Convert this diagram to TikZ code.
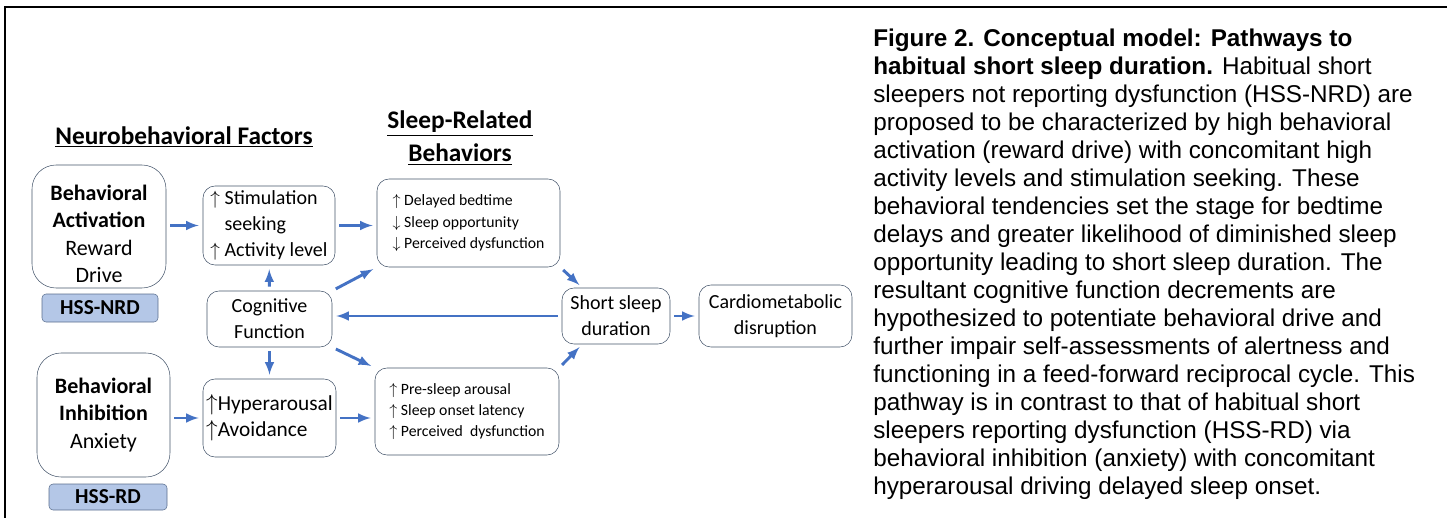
\documentclass[tikz,border=0pt]{standalone}
\usepackage{fontspec}
\setmainfont{Carlito}
\newfontfamily\capfont{Liberation Sans}
\usetikzlibrary{positioning,arrows,calc}
\definecolor{linkblue}{HTML}{4472C4}
\definecolor{boxline}{HTML}{44546A}
\definecolor{tagfill}{HTML}{B4C7E7}
\definecolor{tagline}{HTML}{5A6F8F}
\tikzset{
    factor/.style={draw=boxline, rounded corners=18pt, align=center, inner sep=2pt, font=\fontsize{16.5}{20.5}\selectfont},
    item/.style={draw=boxline, rounded corners=9pt, align=center, inner sep=2pt, font=\fontsize{15}{19.5}\selectfont},
    behav/.style={draw=boxline, rounded corners=9pt, align=left, inner sep=2pt, font=\fontsize{11.8}{16}\selectfont},
    tag/.style={draw=tagline, fill=tagfill, rounded corners=3pt, font=\bfseries\fontsize{16}{18}\selectfont},
    head/.style={align=center, font=\bfseries\fontsize{19}{24.75}\selectfont},
    link/.style={->, draw=linkblue, line width=2.2pt, shorten >=3pt, shorten <=3pt}
}

\begin{document}
\begin{tikzpicture}[x=0.75pt,y=-0.75pt,>=latex]
	\useasboundingbox (0,0) rectangle (1447,518);
	% frame
	\draw[line width=1.4pt] (5,518) -- (5,7) -- (1447,7);

	% headings
	\node[head] (NF) at (184,137) {\underline{Neurobehavioral Factors}};
	\node[head] (SR) at (460,138) {\underline{Sleep-Related}\\\underline{Behaviors}};

	% boxes
	\node[factor,minimum width=134*0.75pt,minimum height=123*0.75pt] (BA) at (99,226.5) {\rule{0pt}{22.5pt}\textbf{Behavioral}\\\textbf{Activation}\\Reward\\Drive};
	\node[tag,minimum width=116*0.75pt,minimum height=28*0.75pt] (NRD) at (100,308) {HSS-NRD};
	\node[factor,minimum width=133*0.75pt,minimum height=124*0.75pt] (BI) at (103.5,415) {\textbf{Behavioral}\\\textbf{Inhibition}\\Anxiety};
	\node[tag,minimum width=118*0.75pt,minimum height=26*0.75pt] (RD) at (108,497) {HSS-RD};
	\node[item,align=left,minimum width=132*0.75pt,minimum height=79*0.75pt] (Stim) at (269,225.5) {$\uparrow$ Stimulation\\\phantom{$\uparrow$ }seeking\\$\uparrow$ Activity level};
	\node[item,minimum width=125*0.75pt,minimum height=56*0.75pt] (Cog) at (269.5,319) {Cognitive\\Function};
	\node[item,align=left,font=\fontsize{16}{19.5}\selectfont,minimum width=133*0.75pt,minimum height=78*0.75pt] (Hyp) at (269.5,418) {$\uparrow$Hyperarousal\\$\uparrow$Avoidance};
	\node[behav,minimum width=183*0.75pt,minimum height=88*0.75pt] (Del) at (468.5,223) {$\uparrow$ Delayed bedtime\\$\downarrow$ Sleep opportunity\\$\downarrow$ Perceived dysfunction};
	\node[behav,minimum width=184*0.75pt,minimum height=87*0.75pt] (Pre) at (467,411.5) {$\uparrow$ Pre-sleep arousal\\$\uparrow$ Sleep onset latency\\$\uparrow$ Perceived\ \ dysfunction};
	\node[item,minimum width=108*0.75pt,minimum height=56*0.75pt] (Short) at (616,316) {Short sleep\\duration};
	\node[item,minimum width=153*0.75pt,minimum height=62*0.75pt] (Card) at (775.5,316) {Cardiometabolic\\disruption};

	% caption
	\node[anchor=north west,align=left,inner sep=0pt,font=\capfont\fontsize{18.2}{21}\selectfont] (Cap) at (873,29)
	{\textbf{Figure 2. Conceptual model: Pathways to}\\
	\textbf{habitual short sleep duration.} Habitual short\\
	sleepers not reporting dysfunction (HSS-NRD) are\\
	proposed to be characterized by high behavioral\\
	activation (reward drive) with concomitant high\\
	activity levels and stimulation seeking. These\\
	behavioral tendencies set the stage for bedtime\\
	delays and greater likelihood of diminished sleep\\
	opportunity leading to short sleep duration. The\\
	resultant cognitive function decrements are\\
	hypothesized to potentiate behavioral drive and\\
	further impair self-assessments of alertness and\\
	functioning in a feed-forward reciprocal cycle. This\\
	pathway is in contrast to that of habitual short\\
	sleepers reporting dysfunction (HSS-RD) via\\
	behavioral inhibition (anxiety) with concomitant\\
	hyperarousal driving delayed sleep onset.};

	% links
	\draw [link] (BA.east |- Stim) -- (Stim);
	\draw [link] (Stim.east) -- (Stim.east -| Del.west);
	\draw [link] (Cog) -- (Stim);
	\draw [link] (Cog) -- (Hyp);
	\draw [link] (Cog.north east) -- (Del.south west);
	\draw [link] (Cog.south east) -- (Pre.north west);
	\draw [link] (Del.south east) -- (Short.140);
	\draw [link] (Pre.north east) -- (Short.220);
	\draw [link] (Short.west) -- (Short.west -| Cog.east);
	\draw [link] (Short) -- (Card);
	\draw [link] (BI.east |- Hyp) -- (Hyp);
	\draw [link] (Hyp) -- (Hyp -| Pre.west);

\end{tikzpicture}
\end{document}
